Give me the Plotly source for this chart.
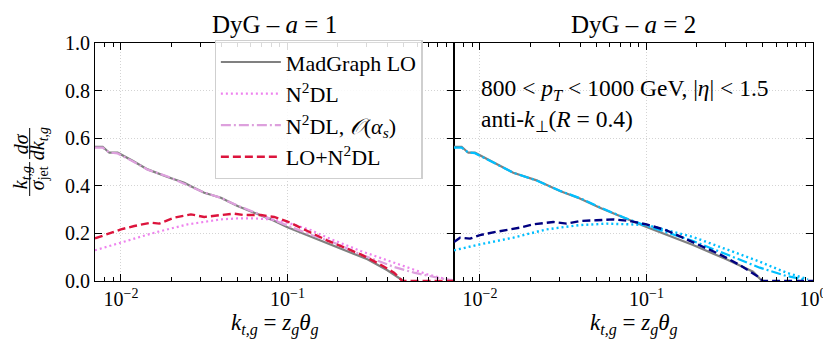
import plotly.graph_objects as go

# ---------------- data ----------------
# Left panel: DyG - a = 1
kt_mg_a1 = [0.00698, 0.00776, 0.00851, 0.00955, 0.01175, 0.01445, 0.01905, 0.02399, 0.02630,
            0.03162, 0.03981, 0.05012, 0.06310, 0.07943, 0.1, 0.138, 0.1905, 0.302, 0.398, 0.49]
mg_a1 = [0.564, 0.564, 0.539, 0.539, 0.505, 0.469, 0.437, 0.413, 0.398,
         0.371, 0.350, 0.315, 0.287, 0.259, 0.226, 0.186, 0.147, 0.091, 0.045, 0.003]

kt_n2dl_a1 = [0.00698, 0.01, 0.01585, 0.02512, 0.03981, 0.05012, 0.0631, 0.07943, 0.1,
              0.138, 0.1738, 0.2754, 0.4365, 0.6918, 0.912, 1.0]
n2dl_a1 = [0.129, 0.161, 0.203, 0.238, 0.259, 0.263, 0.263, 0.259, 0.245,
           0.214, 0.182, 0.126, 0.077, 0.028, 0.007, 0.003]

kt_n2dlas_a1 = [0.00698, 0.00776, 0.00851, 0.00955, 0.01175, 0.01445, 0.01905, 0.02399,
                0.03162, 0.03981, 0.05012, 0.0631, 0.07943, 0.1, 0.138, 0.1905, 0.2754,
                0.4365, 0.5754, 0.7943, 1.0]
n2dlas_a1 = [0.560, 0.560, 0.540, 0.536, 0.503, 0.468, 0.439, 0.410,
             0.372, 0.349, 0.317, 0.289, 0.261, 0.230, 0.194, 0.161, 0.112,
             0.059, 0.035, 0.014, 0.002]

kt_lo_n2dl_a1 = [0.00698, 0.00832, 0.01, 0.01202, 0.01514, 0.01698, 0.02089, 0.0263, 0.03162,
                 0.03981, 0.04786, 0.0550, 0.06918, 0.08318, 0.1, 0.1318, 0.1738, 0.2754,
                 0.3548, 0.4365, 0.49, 1.0]
lo_n2dl_a1 = [0.179, 0.199, 0.217, 0.231, 0.245, 0.241, 0.266, 0.280, 0.269,
              0.277, 0.283, 0.277, 0.277, 0.269, 0.250, 0.210, 0.170, 0.112,
              0.072, 0.035, 0.0, 0.0]

# Right panel: DyG - a = 2
kt_mg_a2 = [0.00698, 0.00776, 0.00851, 0.00933, 0.01585, 0.02188, 0.0302, 0.03981, 0.05248,
            0.07244, 0.1, 0.1905, 0.302, 0.4365, 0.49]
mg_a2 = [0.564, 0.564, 0.539, 0.539, 0.455, 0.423, 0.378, 0.347, 0.308,
         0.266, 0.227, 0.151, 0.091, 0.039, 0.003]

kt_n2dlas_a2 = [0.00698, 0.00776, 0.00851, 0.00933, 0.01585, 0.02188, 0.0302, 0.03981, 0.05248,
                0.07244, 0.1, 0.1905, 0.302, 0.4786, 0.6918, 0.912]
n2dlas_a2 = [0.560, 0.560, 0.540, 0.537, 0.455, 0.422, 0.379, 0.348, 0.310,
             0.268, 0.232, 0.168, 0.112, 0.056, 0.021, 0.005]

kt_n2dl_a2 = [0.00698, 0.01, 0.01585, 0.02512, 0.03981, 0.05754, 0.07943, 0.1, 0.1905,
              0.302, 0.4786, 0.6918, 0.933]
n2dl_a2 = [0.129, 0.154, 0.182, 0.217, 0.235, 0.241, 0.238, 0.235, 0.185,
           0.133, 0.081, 0.035, 0.007]

kt_lo_n2dl_a2 = [0.00698, 0.00759, 0.00871, 0.01, 0.01259, 0.01738, 0.02089, 0.02754, 0.03311,
                 0.03981, 0.05012, 0.0631, 0.07943, 0.1, 0.1318, 0.1905, 0.2754, 0.3631,
                 0.4786, 0.50, 1.0]
lo_n2dl_a2 = [0.164, 0.182, 0.178, 0.193, 0.207, 0.224, 0.238, 0.248, 0.241,
              0.252, 0.255, 0.259, 0.252, 0.238, 0.213, 0.161, 0.112, 0.067,
              0.014, 0.0, 0.0]

y_ticks = [0.0, 0.2, 0.4, 0.6, 0.8, 1.0]
titles = ["DyG – <i>a</i> = 1", "DyG – <i>a</i> = 2"]

# ---------------- styling ----------------
FONT = "Liberation Serif"
GRAY = "#808080"
VIOLET = "#EE82EE"
PLUM = "#DDA0DD"
CRIMSON = "#DC143C"
NAVY = "#000080"
SKY = "#00BFFF"

W, H = 831, 339
L, R, T, B = 87, 807, 35, 273  # plot area in pixels


def px(x):
    return (x - L) / (R - L)


def py(y):
    return (B - y) / (B - T)


fig = go.Figure()

left = [
    (kt_mg_a1, mg_a1, "MadGraph LO", GRAY, "solid", 2.2),
    (kt_n2dl_a1, n2dl_a1, "N<sup>2</sup>DL", VIOLET, "2px,3px", 2.2),
    (kt_n2dlas_a1, n2dlas_a1, "N<sup>2</sup>DL, <i>𝒪</i>(<i>α<sub>s</sub></i>)", PLUM, "10px,3px,2px,3px", 2.2),
    (kt_lo_n2dl_a1, lo_n2dl_a1, "LO+N<sup>2</sup>DL", CRIMSON, "8px,4px", 2.4),
]
right = [
    (kt_mg_a2, mg_a2, GRAY, "solid", 2.2),
    (kt_n2dl_a2, n2dl_a2, SKY, "2px,3px", 2.4),
    (kt_n2dlas_a2, n2dlas_a2, SKY, "10px,3px,2px,3px", 2.2),
    (kt_lo_n2dl_a2, lo_n2dl_a2, NAVY, "8px,4px", 2.4),
]

for i, (x, y, name, c, d, w) in enumerate(left):
    fig.add_trace(go.Scatter(x=x, y=y, mode="lines", name=name, legendgroup=f"g{i}",
                             line=dict(color=c, dash=d, width=w), xaxis="x", yaxis="y"))
for x, y, c, d, w in right:
    fig.add_trace(go.Scatter(x=x, y=y, mode="lines", showlegend=False,
                             line=dict(color=c, dash=d, width=w), xaxis="x2", yaxis="y2"))

axis_common = dict(
    showline=True, linecolor="black", linewidth=1.2, mirror="ticks",
    ticks="inside", ticklen=7, tickwidth=1, tickcolor="black",
    showgrid=True, gridcolor="#d4d4d4", griddash="1px,2px", gridwidth=1,
    zeroline=False,
    tickfont=dict(family=FONT, size=20, color="black"),
)

minor_vals = [0.008, 0.009, 0.02, 0.03, 0.04, 0.05, 0.06, 0.07, 0.08, 0.09,
              0.2, 0.3, 0.4, 0.5, 0.6, 0.7, 0.8, 0.9]
xr = [-2.156, 0.0]
fig.update_layout(
    width=W, height=H,
    margin=dict(l=L, r=W - R, t=T, b=H - B),
    paper_bgcolor="white", plot_bgcolor="white",
    font=dict(family=FONT, color="black"),
    xaxis=dict(domain=[0, 0.5], type="log", range=xr, tickvals=[0.01, 0.1],
               ticktext=["10<sup>−2</sup>", "10<sup>−1</sup>"],
               minor=dict(ticks="inside", ticklen=3.5, tickcolor="black",
                          tickvals=minor_vals, showgrid=False),
               anchor="y", **axis_common),
    yaxis=dict(domain=[0, 1], range=[0, 1], tickvals=y_ticks,
               ticktext=[f"{v:.1f}" for v in y_ticks], anchor="x", **axis_common),
    xaxis2=dict(domain=[0.5, 1], type="log", range=xr, tickvals=[0.01, 0.1, 1.0],
                ticktext=["10<sup>−2</sup>", "10<sup>−1</sup>", "10<sup>0</sup>"],
                minor=dict(ticks="inside", ticklen=3.5, tickcolor="black",
                           tickvals=minor_vals, showgrid=False),
                anchor="y2", **axis_common),
    yaxis2=dict(domain=[0, 1], range=[0, 1], tickvals=y_ticks, showticklabels=False,
                anchor="x2", **axis_common),
    legend=dict(x=px(207), y=py(32), xanchor="left", yanchor="top",
                bgcolor="rgba(255,255,255,0.85)", bordercolor="#cfcfcf", borderwidth=1.2,
                font=dict(family=FONT, size=22, color="black"),
                tracegroupgap=0, itemwidth=60),
)

ann = []
# panel titles
for j, t in enumerate(titles):
    ann.append(dict(text=t, x=0.25 + 0.5 * j, y=py(16), xref="paper", yref="paper",
                    showarrow=False, font=dict(size=25, family=FONT), xanchor="center", yanchor="middle"))
    ann.append(dict(text="<i>k</i><sub><i>t,g</i></sub>&nbsp;=&nbsp;<i>z</i><sub><i>g</i></sub><i>θ</i><sub><i>g</i></sub>",
                    x=0.25 + 0.5 * j, y=py(316), xref="paper", yref="paper", showarrow=False,
                    font=dict(size=23, family=FONT), xanchor="center", yanchor="middle"))
# right-panel labels
ann.append(dict(text="800 < <i>p<sub>T</sub></i> < 1000 GeV, |<i>η</i>| < 1.5",
                x=px(472), y=py(82), xref="paper", yref="paper", showarrow=False,
                font=dict(size=23.5, family=FONT), xanchor="left", yanchor="middle"))
ann.append(dict(text="anti-<i>k</i><sub>⊥</sub>(<i>R</i> = 0.4)",
                x=px(472), y=py(113), xref="paper", yref="paper", showarrow=False,
                font=dict(size=23.5, family=FONT), xanchor="left", yanchor="middle"))
# y-axis label as stacked fractions
ylab = [
    ("<i>k</i><sub><i>t,g</i></sub>", 13, 170),
    ("<i>σ</i><sub>jet</sub>", 30, 170),
    ("<i>dσ</i>", 13, 136),
    ("<i>dk</i><sub><i>t,g</i></sub>", 30, 136),
]
for t, xx, yy in ylab:
    ann.append(dict(text=t, x=px(xx), y=py(yy), xref="paper", yref="paper", showarrow=False,
                    textangle=-90, font=dict(size=20, family=FONT), xanchor="center", yanchor="middle"))
fig.update_layout(annotations=ann)

shapes = [
    dict(type="line", xref="paper", yref="paper", x0=px(21.5), x1=px(21.5), y0=py(154), y1=py(188),
         line=dict(color="black", width=1)),
    dict(type="line", xref="paper", yref="paper", x0=px(21.5), x1=px(21.5), y0=py(120), y1=py(151),
         line=dict(color="black", width=1)),
]
fig.update_layout(shapes=shapes)

fig.write_html("out.html")
